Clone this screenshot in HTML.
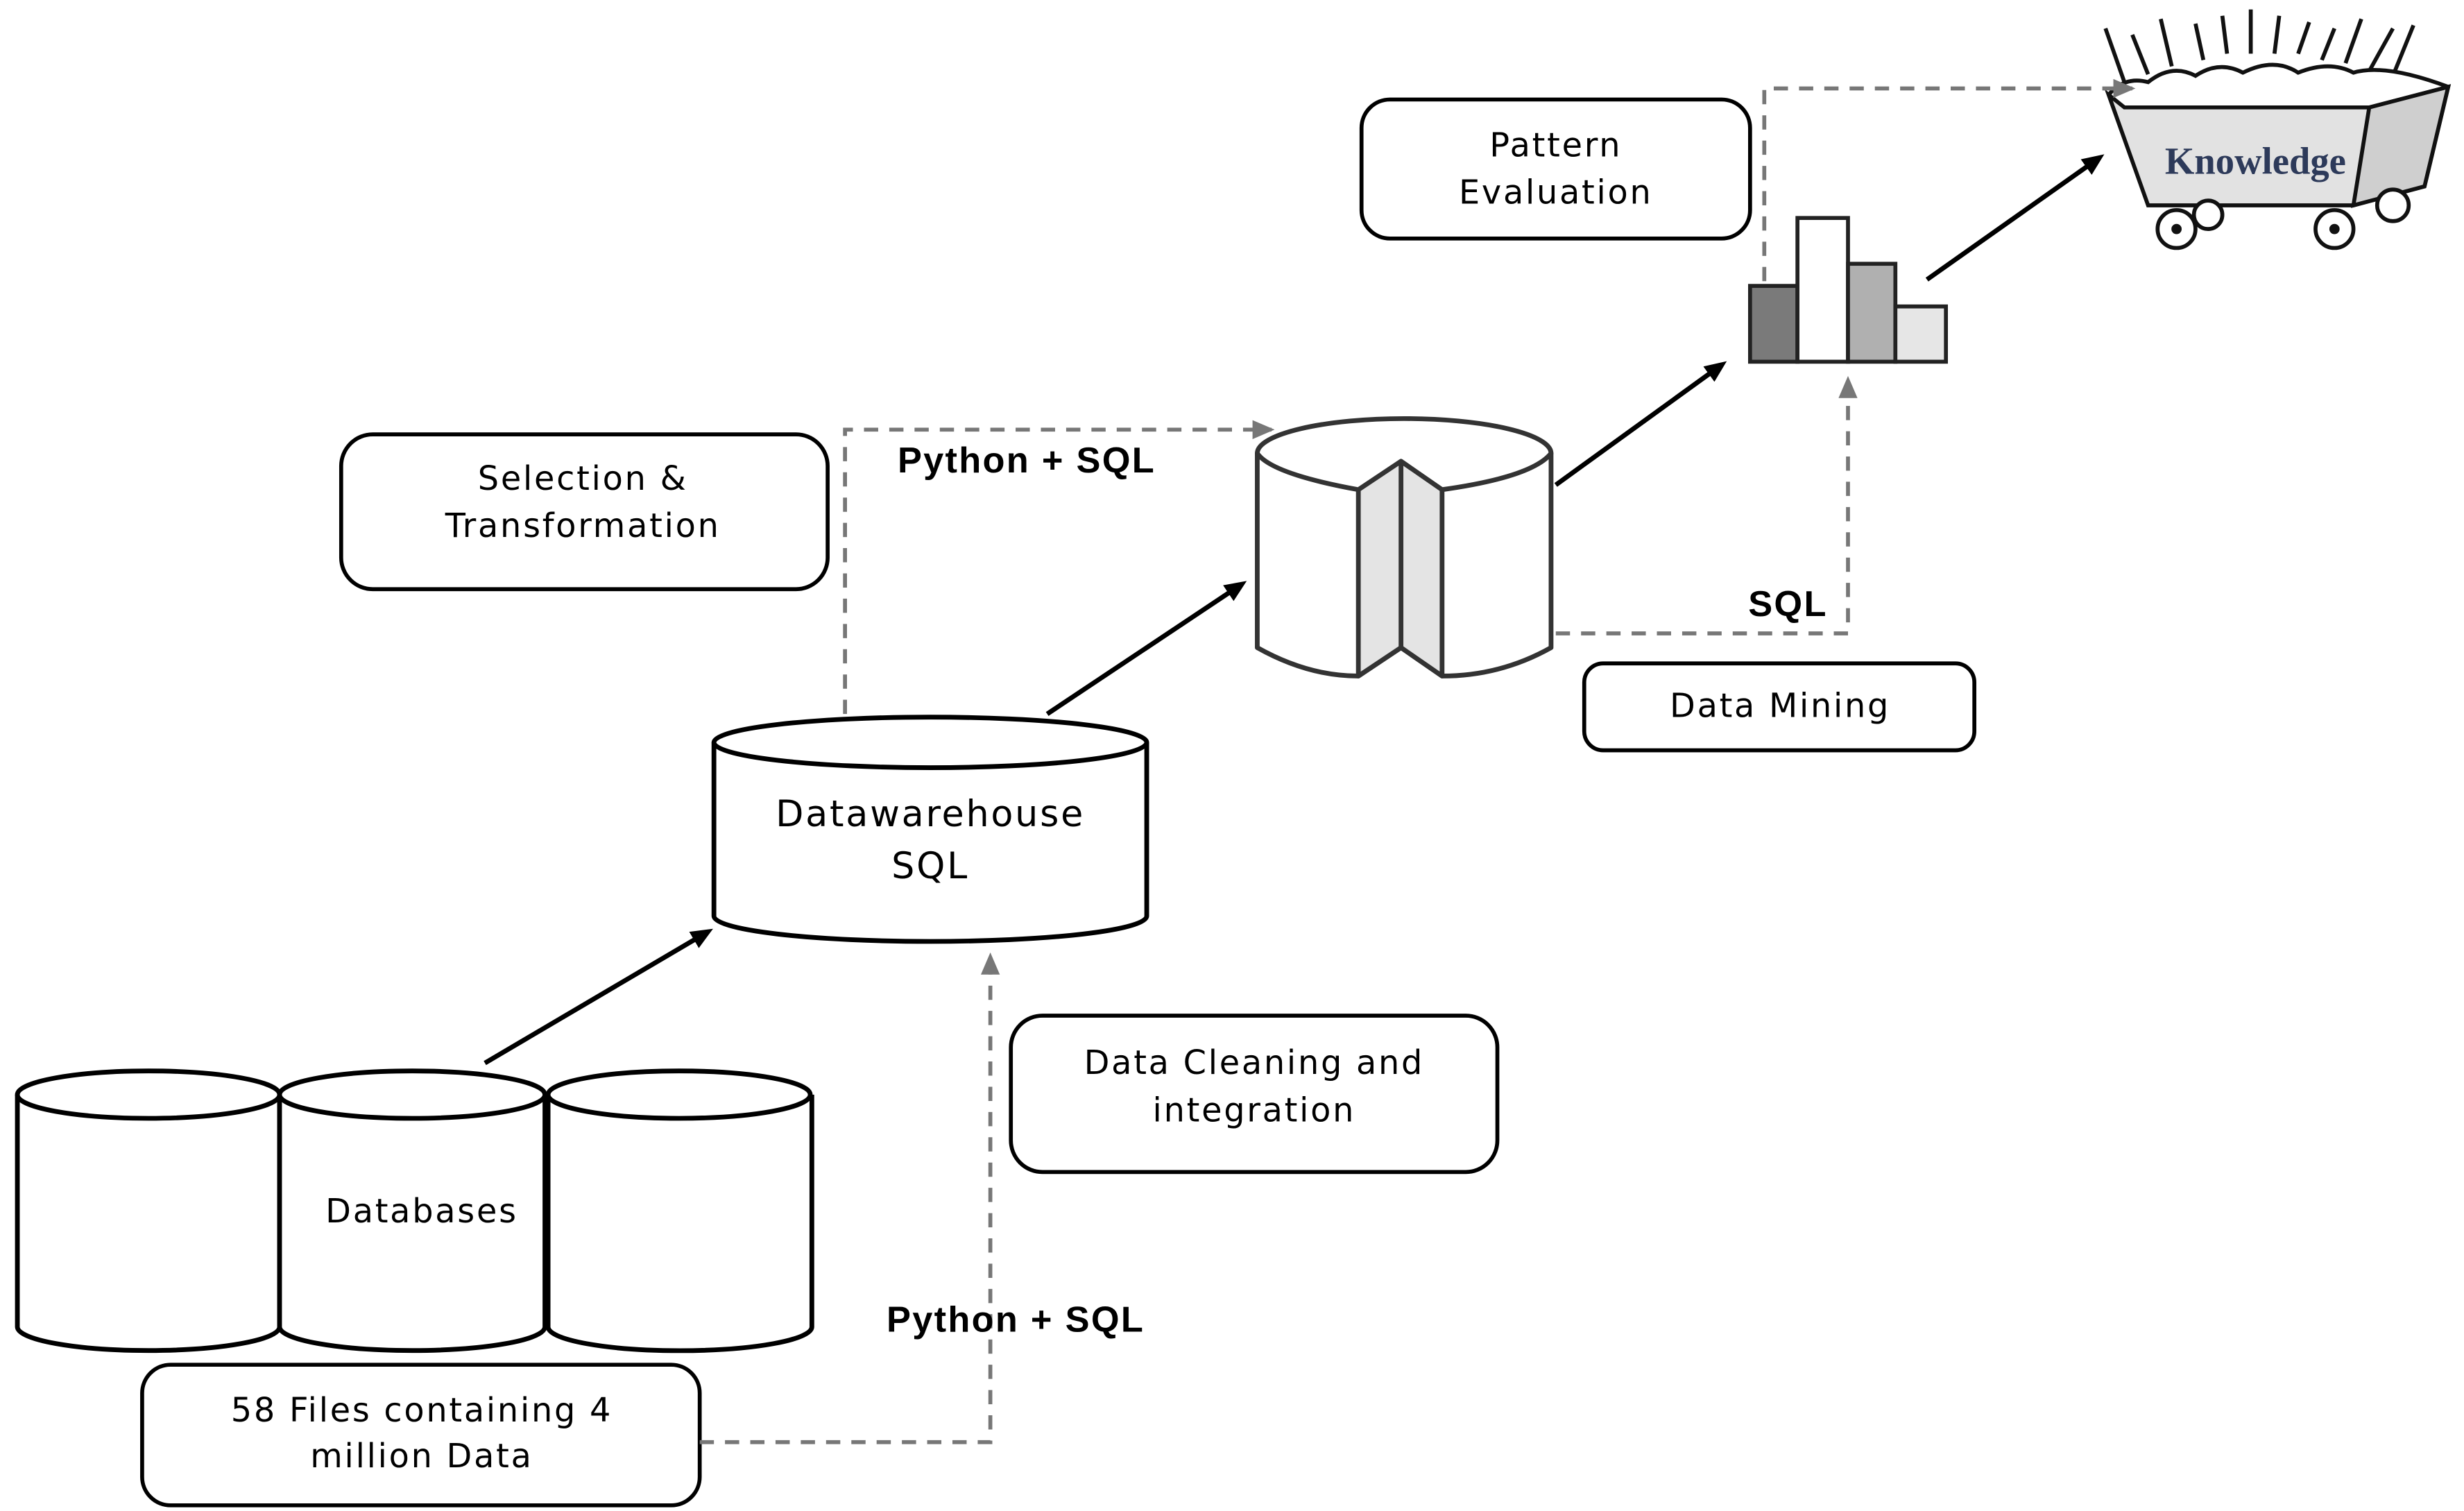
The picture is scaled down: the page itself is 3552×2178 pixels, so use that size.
<!DOCTYPE html>
<html><head><meta charset="utf-8"><style>html,body{margin:0;padding:0;background:#fff}svg{display:block}</style></head>
<body>
<svg width="3552" height="2178" viewBox="0 0 1560 956.6" preserveAspectRatio="none" xmlns="http://www.w3.org/2000/svg">
<defs>
<marker id="ab" markerWidth="14" markerHeight="12" refX="10" refY="6" orient="auto" markerUnits="userSpaceOnUse"><path d="M0,0 L14,6 L0,12 Z" fill="#000"/></marker>
<marker id="ag" markerWidth="14" markerHeight="12" refX="12" refY="6" orient="auto" markerUnits="userSpaceOnUse"><path d="M0,0 L14,6 L0,12 Z" fill="#777"/></marker>
</defs>
<g font-family="DejaVu Sans, Liberation Sans, sans-serif" font-size="21" letter-spacing="1.2" text-anchor="middle" fill="#000">
<g fill="#fff" stroke="#000" stroke-width="2.5">
<rect x="862" y="63" width="246" height="88" rx="18"/>
<rect x="216" y="275" width="308" height="98" rx="20"/>
<rect x="1003" y="420" width="247" height="55" rx="12"/>
<rect x="640" y="643" width="308" height="99" rx="20"/>
<rect x="90" y="864" width="353" height="89" rx="18"/>
</g>
<text x="985" y="99">Pattern</text><text x="985" y="129">Evaluation</text>
<text x="369" y="310">Selection &amp;</text><text x="369" y="340">Transformation</text>
<text x="1127" y="454">Data Mining</text>
<text x="794" y="680">Data Cleaning and</text><text x="794" y="710">integration</text>
<text x="267" y="900">58 Files containing 4</text><text x="267" y="929">million Data</text>
<g fill="#fff" stroke="#000" stroke-width="3">
<path d="M11,693 V840 A83,15 0 0 0 177,840 V693"/><ellipse cx="94" cy="693" rx="83" ry="15"/>
<path d="M177,693 V840 A84,15 0 0 0 345,840 V693"/><ellipse cx="261" cy="693" rx="84" ry="15"/>
<path d="M347,693 V840 A83,15 0 0 0 514,840 V693"/><ellipse cx="430" cy="693" rx="83" ry="15"/>
</g>
<text x="267" y="774">Databases</text>
<g fill="#fff" stroke="#000" stroke-width="3">
<path d="M452,470 V580 A137,16 0 0 0 726,580 V470"/><ellipse cx="589" cy="470" rx="137" ry="16"/>
</g>
<text x="589" y="523" font-size="23">Datawarehouse</text><text x="589" y="556" font-size="23">SQL</text>
<g stroke="#333" stroke-width="3" stroke-linejoin="round">
<path d="M796,287 V410 Q828,428 860,428 L887,410 L913,428 Q950,428 982,410 V287 Z" fill="#fff"/>
<path d="M860,310 L887,292 L913,310 V428 L887,410 L860,428 Z" fill="#e4e4e4"/>
<line x1="887" y1="292" x2="887" y2="410"/>
<path d="M860,310 Q805,300 796,287 A93,22 0 0 1 982,287 Q970,302 913,310 L887,292 Z" fill="#fff"/>
</g>
<g stroke="#222" stroke-width="2.5">
<rect x="1108" y="181" width="30" height="48" fill="#7a7a7a"/>
<rect x="1138" y="138" width="32" height="91" fill="#fff"/>
<rect x="1170" y="167" width="30" height="62" fill="#b0b0b0"/>
<rect x="1200" y="194" width="32" height="35" fill="#e6e6e6"/>
</g>
<g stroke="#111" stroke-width="2.5" fill="none">
<path d="M1345,52 L1333,18 M1360,47 L1350,22 M1375,42 L1368,12 M1395,38 L1390,15 M1410,34 L1407,10 M1425,34 L1425,6 M1440,34 L1443,10 M1455,34 L1462,14 M1470,38 L1478,18 M1485,40 L1495,12 M1500,45 L1515,18 M1515,48 L1528,16"/>
<path d="M1335,60 Q1345,48 1360,52 Q1375,40 1390,48 Q1405,38 1420,46 Q1440,36 1455,46 Q1475,38 1490,46 Q1510,40 1550,55" fill="#fff"/>
<path d="M1335,60 L1345,68 L1500,68 L1550,55 L1535,118 L1490,130 L1360,130 Z" fill="#e2e2e2"/>
<path d="M1500,68 L1550,55 L1535,118 L1490,130 Z" fill="#cfcfcf"/>
<circle cx="1378" cy="145" r="12" fill="#fff"/><circle cx="1478" cy="145" r="12" fill="#fff"/>
<circle cx="1398" cy="136" r="9" fill="#fff"/><circle cx="1515" cy="130" r="10" fill="#fff"/>
<circle cx="1378" cy="145" r="2" fill="#111"/><circle cx="1478" cy="145" r="2" fill="#111"/>
</g>
<text x="1428" y="110" font-family="Liberation Serif, serif" font-weight="bold" font-size="24" letter-spacing="0" fill="#2d3a5a">Knowledge</text>
<g stroke="#000" stroke-width="3" marker-end="url(#ab)">
<line x1="307" y1="673" x2="448" y2="590"/>
<line x1="663" y1="452" x2="786" y2="370"/>
<line x1="985" y1="307" x2="1090" y2="231"/>
<line x1="1220" y1="177" x2="1329" y2="100"/>
</g>
<g stroke="#777" stroke-width="2.5" fill="none" stroke-dasharray="9,7" marker-end="url(#ag)">
<polyline points="443,913 627,913 627,605"/>
<polyline points="535,452 535,272 805,272"/>
<polyline points="985,401 1170,401 1170,240"/>
<polyline points="1117,178 1117,56 1350,56"/>
</g>
<g font-family="Liberation Sans, sans-serif" font-weight="bold" font-size="23" letter-spacing="1">
<text x="650" y="299">Python + SQL</text>
<text x="1132" y="390">SQL</text>
<text x="643" y="843">Python + SQL</text>
</g>
</g>
</svg>
</body></html>
